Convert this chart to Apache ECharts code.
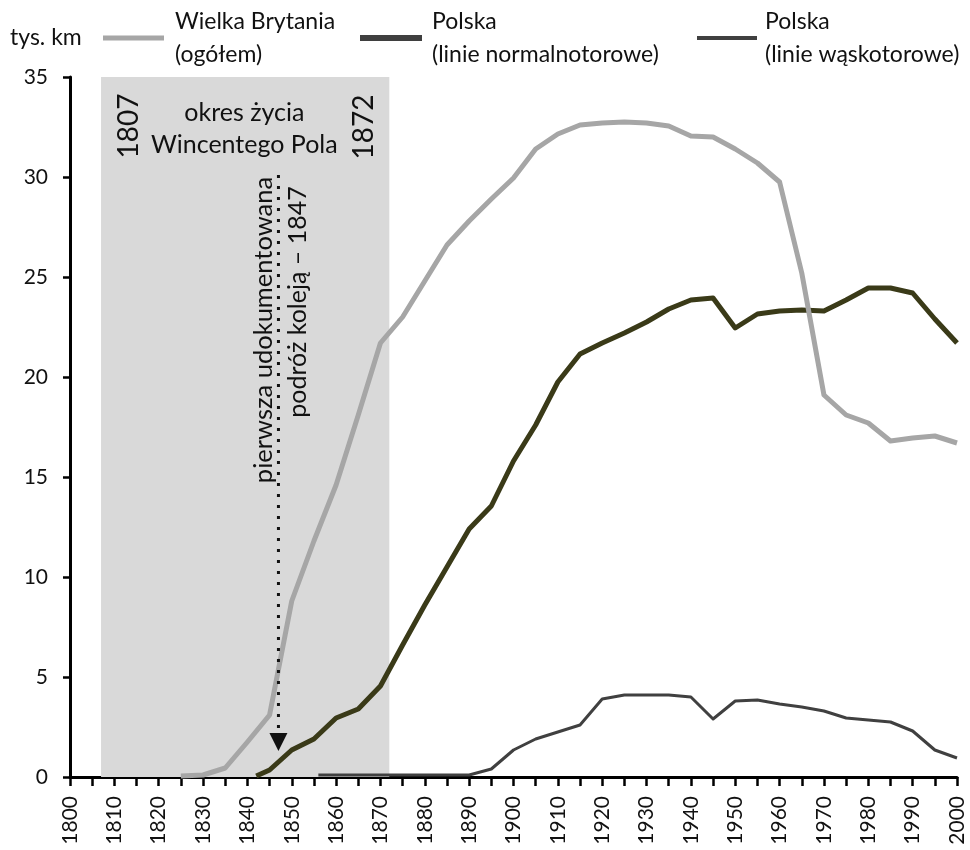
<!DOCTYPE html>
<html>
<head>
<meta charset="utf-8">
<script src="https://cdn.jsdelivr.net/npm/echarts@6/dist/echarts.min.js"></script>
<style>
html,body{margin:0;padding:0;background:#fff;}
#c{width:970px;height:850px;}
</style>
</head>
<body>
<div id="c"></div>
<script>
// ---- data (thousand km) ----
const gbYears = [1825,1830,1835,1840,1845,1850,1855,1860,1865,1870,1875,1880,1885,1890,1895,1900,1905,1910,1915,1920,1925,1930,1935,1940,1945,1950,1955,1960,1965,1970,1975,1980,1985,1990,1995,2000];
const gbValues = [0.05,0.1,0.45,1.75,3.1,8.8,11.8,14.6,18.1,21.7,23.0,24.8,26.6,27.8,28.9,29.95,31.4,32.15,32.6,32.7,32.75,32.7,32.55,32.05,32.0,31.4,30.7,29.75,25.2,19.1,18.1,17.7,16.8,16.95,17.05,16.7];

const plNormYears = [1842,1845,1850,1855,1860,1865,1870,1875,1880,1885,1890,1895,1900,1905,1910,1915,1920,1925,1930,1935,1940,1945,1950,1955,1960,1965,1970,1975,1980,1985,1990,1995,2000];
const plNormValues = [0.05,0.35,1.35,1.9,2.95,3.4,4.55,6.6,8.6,10.5,12.4,13.55,15.8,17.6,19.75,21.15,21.7,22.2,22.75,23.4,23.85,23.95,22.45,23.15,23.3,23.35,23.3,23.85,24.45,24.45,24.2,22.9,21.7];

const plNarrowYears = [1856,1860,1870,1880,1890,1895,1900,1905,1910,1915,1920,1925,1930,1935,1940,1945,1950,1955,1960,1965,1970,1975,1980,1985,1990,1995,2000];
const plNarrowValues = [0.1,0.1,0.1,0.1,0.1,0.4,1.35,1.9,2.25,2.6,3.9,4.1,4.1,4.1,4.0,2.9,3.8,3.85,3.65,3.5,3.3,2.95,2.85,2.75,2.3,1.35,0.95];

const lifeSpan = [1807, 1872];
const firstTripYear = 1847;
const legendNames = ['Wielka Brytania\n(ogółem)', 'Polska\n(linie normalnotorowe)', 'Polska\n(linie wąskotorowe)'];
const yUnit = 'tys. km';

const pairs = (xs, ys) => xs.map((x, i) => [x, ys[i]]);
const FONT = 'Lato, "Open Sans", sans-serif';

const chart = echarts.init(document.getElementById('c'), null, {renderer: 'canvas'});
const option = {
  animation: false,
  backgroundColor: '#fff',
  grid: {left: 70, right: 13, top: 77, bottom: 73, containLabel: false},
  xAxis: {
    type: 'value', min: 1800, max: 2000, interval: 5,
    axisLine: {show: true, onZero: false, lineStyle: {color: '#000', width: 3}},
    axisTick: {show: true, length: 9, lineStyle: {color: '#000', width: 2.5}},
    splitLine: {show: false},
    axisLabel: {
      rotate: 90, margin: 19, color: '#111', fontSize: 21, fontFamily: FONT,
      formatter: v => (v % 10 === 0 ? String(v) : '')
    }
  },
  yAxis: {
    type: 'value', min: 0, max: 35, interval: 5,
    axisLine: {show: true, lineStyle: {color: '#000', width: 3}},
    axisTick: {show: true, length: 7, lineStyle: {color: '#000', width: 2.5}},
    splitLine: {show: false},
    axisLabel: {margin: 22, color: '#111', fontSize: 21, fontFamily: FONT}
  },
  series: [
    {
      type: 'line', data: [], z: 0, silent: true,
      markArea: {
        silent: true,
        itemStyle: {color: '#d9d9d9'},
        data: [[{xAxis: lifeSpan[0], yAxis: 0}, {xAxis: lifeSpan[1], yAxis: 35}]]
      }
    },
    {
      name: legendNames[1], type: 'line', data: pairs(plNormYears, plNormValues),
      showSymbol: false, z: 3, lineStyle: {color: '#3a3a18', width: 5, join: 'round'},
      itemStyle: {color: '#3a3a18'}
    },
    {
      name: legendNames[2], type: 'line', data: pairs(plNarrowYears, plNarrowValues),
      showSymbol: false, z: 3, lineStyle: {color: '#404040', width: 3, join: 'round'},
      itemStyle: {color: '#404040'}
    },
    {
      name: legendNames[0], type: 'line', data: pairs(gbYears, gbValues),
      showSymbol: false, z: 4, lineStyle: {color: '#a6a6a6', width: 5, join: 'round'},
      itemStyle: {color: '#a6a6a6'}
    }
  ]
};
chart.setOption(option);

const P = (x, y) => chart.convertToPixel({gridIndex: 0}, [x, y]);
const top35 = P(firstTripYear, 30.1);
const arrowTop = P(firstTripYear, 2.2);
const arrowTip = P(firstTripYear, 1.3);
const ax = top35[0];
const c1807 = P(1813.2, 32.55);
const c1872 = P(1866.2, 32.5);
const cTitle1 = P(1839.3, 33.2);
const cTitle2 = P(1839.3, 31.6);
const cNote1 = P(1843.6, 22.35);
const cNote2 = P(1851.5, 23.75);

const txt = (x, y, text, size, rot, align) => ({
  type: 'text', x, y, rotation: rot || 0, z: 10,
  style: {text, fill: '#111', fontSize: size, fontFamily: FONT, align: align || 'center', verticalAlign: 'middle'}
});

const legendLine = (x1, x2, y, w, color) => ({
  type: 'line', z: 10, shape: {x1, y1: y, x2, y2: y}, style: {stroke: color, lineWidth: w}
});
const legendText = (x, text) => ({
  type: 'text', x, y: 38, z: 10,
  style: {text, fill: '#111', fontSize: 23, fontFamily: FONT, align: 'left', verticalAlign: 'middle', lineHeight: 33}
});

chart.setOption({
  graphic: [
    txt(c1807[0], c1807[1], String(lifeSpan[0]), 28, Math.PI / 2),
    txt(c1872[0], c1872[1], String(lifeSpan[1]), 28, Math.PI / 2),
    txt(cTitle1[0], cTitle1[1], 'okres życia', 25),
    txt(cTitle2[0], cTitle2[1], 'Wincentego Pola', 25),
    txt(cNote1[0], cNote1[1], 'pierwsza udokumentowana', 25.5, Math.PI / 2),
    txt(cNote2[0], cNote2[1], 'podróż koleją – 1847', 25, Math.PI / 2),
    {
      type: 'line', z: 10,
      shape: {x1: ax, y1: top35[1], x2: ax, y2: arrowTop[1] - 3},
      style: {stroke: '#111', lineWidth: 3, lineDash: [3, 8]}
    },
    {
      type: 'polygon', z: 10,
      shape: {points: [[ax - 9, arrowTop[1]], [ax + 9, arrowTop[1]], [ax, arrowTip[1]]]},
      style: {fill: '#111'}
    },
    txt(10, 38, yUnit, 23, 0, 'left'),
    legendLine(103, 164, 38, 5, '#a6a6a6'),
    legendText(175, legendNames[0]),
    legendLine(360, 422, 38, 6, '#3f3f3f'),
    legendText(432, legendNames[1]),
    legendLine(697, 757, 38, 4, '#404040'),
    legendText(765, legendNames[2])
  ]
});
</script>
</body>
</html>
